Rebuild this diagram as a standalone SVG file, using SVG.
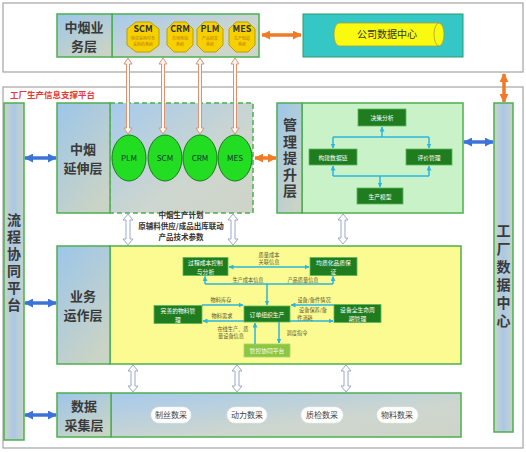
<svg xmlns="http://www.w3.org/2000/svg" width="526" height="452" viewBox="0 0 526 452">
<defs>
<linearGradient id="gLab" x1="0" y1="0" x2="0.6" y2="1"><stop offset="0" stop-color="#9cc6ea"/><stop offset="1" stop-color="#c9d3c6"/></linearGradient>
<linearGradient id="gBody" x1="0" y1="0" x2="1" y2="1"><stop offset="0" stop-color="#a6caec"/><stop offset="0.6" stop-color="#cdd6cf"/><stop offset="1" stop-color="#cfd4c8"/></linearGradient>
<linearGradient id="gSide" x1="0" y1="0" x2="1" y2="0"><stop offset="0" stop-color="#c8d4c8"/><stop offset="0.5" stop-color="#aac8e4"/><stop offset="1" stop-color="#c8d4c8"/></linearGradient>
<marker id="mc" viewBox="0 0 10 10" refX="9" refY="5" markerWidth="5" markerHeight="5" markerUnits="userSpaceOnUse" orient="auto-start-reverse"><path d="M0,0 L10,5 L0,10 Z" fill="#2bb6dc"/></marker>
<marker id="mb" viewBox="0 0 10 10" refX="9" refY="5" markerWidth="9" markerHeight="9" markerUnits="userSpaceOnUse" orient="auto-start-reverse"><path d="M0,0 L10,5 L0,10 Z" fill="#3b73d9"/></marker>
<marker id="mo" viewBox="0 0 10 10" refX="9" refY="5" markerWidth="9" markerHeight="9" markerUnits="userSpaceOnUse" orient="auto-start-reverse"><path d="M0,0 L10,5 L0,10 Z" fill="#f07a26"/></marker>
</defs>
<style>
text{font-family:"Noto Sans CJK SC","Liberation Sans",sans-serif}
.frame{fill:#fff;stroke:#a4a4a4;stroke-width:1.2}
.lab{fill:url(#gLab);stroke:#4caf50;stroke-width:1.5}
.big{font-size:13px;fill:#3a3a3a;text-anchor:middle;font-weight:bold}
.vt{font-size:14px;fill:#3a3a3a;font-weight:bold;writing-mode:vertical-rl;letter-spacing:3px}
.oct{fill:#f6d000;stroke:#b9a200;stroke-width:1}
.octT{font-size:9px;font-weight:bold;fill:#333;text-anchor:middle}
.octS{font-size:4px;fill:#c07a10;text-anchor:middle}
.cir{fill:#22dd22;stroke:#1b7a1b;stroke-width:1}
.cirT{font-size:8px;fill:#133;text-anchor:middle}
.dg{fill:#1f7d1f;stroke:#5cb85c;stroke-width:0.8}
.wt{font-size:5.8px;fill:#fff;text-anchor:middle}
.sm{font-size:5.2px;fill:#5a5a30;text-anchor:middle}
.cy{stroke:#2bb6dc;stroke-width:1.5;fill:none}
.blue{stroke:#3b73d9;stroke-width:3.5;fill:none}
.orange{stroke:#f07a26;stroke-width:3.5;fill:none}
.hb{fill:#fff;stroke:#9aa8cc;stroke-width:1}
.ho{fill:#fff7f0;stroke:#d99474;stroke-width:1}
.pill{fill:#fff;stroke:#e6ecef;stroke-width:0.5}
.pT{font-size:8px;fill:#444;text-anchor:middle}
</style>

<g id="top-frame"><rect class="frame" x="3" y="3" width="520" height="69"/></g>
<g id="platform-frame">
<rect class="frame" x="3" y="87" width="520" height="361"/>
<text x="10" y="98" font-size="8.5" fill="#e03a3a" font-weight="bold">工厂生产信息支撑平台</text>
</g>

<g id="zy-business">
<rect x="112" y="14" width="147" height="43" fill="url(#gBody)" stroke="#4caf50" stroke-width="1.5"/>
<rect class="lab" x="57" y="14" width="55" height="43"/>
<text class="big"><tspan x="84" y="32">中烟业</tspan><tspan x="84" y="51">务层</tspan></text>
</g>
<g id="sys-scm">
<path class="oct" d="M136,22 L150,22 L159,29 L159,45 L150,52 L136,52 L127,45 L127,29 Z"/>
<text class="octT" x="143" y="32">SCM</text>
<text class="octS"><tspan x="143" y="39.5">物资采购综合</tspan><tspan x="143" y="45.5">采购的系统</tspan></text>
</g>
<g id="sys-crm">
<path class="oct" d="M174,22 L186,22 L193,29 L193,45 L186,52 L174,52 L167,45 L167,29 Z"/>
<text class="octT" x="180" y="32">CRM</text>
<text class="octS"><tspan x="180" y="39.5">市场营销</tspan><tspan x="180" y="45.5">系统</tspan></text>
</g>
<g id="sys-plm">
<path class="oct" d="M204,22 L216,22 L223,29 L223,45 L216,52 L204,52 L197,45 L197,29 Z"/>
<text class="octT" x="210" y="32">PLM</text>
<text class="octS"><tspan x="210" y="39.5">产品研发</tspan><tspan x="210" y="45.5">系统</tspan></text>
</g>
<g id="sys-mes">
<path class="oct" d="M236,22 L248,22 L255,29 L255,45 L248,52 L236,52 L229,45 L229,29 Z"/>
<text class="octT" x="242" y="32">MES</text>
<text class="octS"><tspan x="242" y="39.5">生产制造</tspan><tspan x="242" y="45.5">系统</tspan></text>
</g>

<g id="company-dc">
<rect x="303" y="14" width="160" height="43" fill="#35c6c6" stroke="#2a9a6a" stroke-width="1"/>
<path d="M339,23 L439,23 A5,11.5 0 0 1 439,46 L339,46 A5,11.5 0 0 1 339,23 Z" fill="#fafa10" stroke="#a8a040" stroke-width="0.8"/>
<path d="M439,23 A5,11.5 0 0 0 439,46" fill="none" stroke="#a8a040" stroke-width="0.8"/>
<text x="387" y="38" font-size="10" fill="#333" text-anchor="middle">公司数据中心</text>
</g>

<g id="flow-platform">
<rect x="4" y="103" width="20" height="337" fill="url(#gSide)" stroke="#4caf50" stroke-width="1.5"/>
<text class="vt" x="14" y="213">流程协同平台</text>
</g>

<g id="factory-dc">
<rect x="494" y="103" width="19" height="329" fill="url(#gSide)" stroke="#4caf50" stroke-width="1.5"/>
<text class="vt" x="503.5" y="224" font-size="15" style="letter-spacing:4px">工厂数据中心</text>
</g>

<g id="zy-extension">
<rect x="110" y="103" width="143" height="110" fill="url(#gBody)" stroke="#4caf50" stroke-width="1.5" stroke-dasharray="5,3"/>
<rect class="lab" x="57" y="103" width="53" height="110"/>
<text class="big"><tspan x="83" y="154">中烟</tspan><tspan x="83" y="173">延伸层</tspan></text>
</g>
<g id="c-plm"><ellipse class="cir" cx="129" cy="158" rx="17" ry="23"/><text class="cirT" x="129" y="161">PLM</text></g>
<g id="c-scm"><ellipse class="cir" cx="165" cy="158" rx="17" ry="23"/><text class="cirT" x="165" y="161">SCM</text></g>
<g id="c-crm"><ellipse class="cir" cx="200" cy="158" rx="17" ry="23"/><text class="cirT" x="200" y="161">CRM</text></g>
<g id="c-mes"><ellipse class="cir" cx="235" cy="158" rx="17" ry="23"/><text class="cirT" x="235" y="161">MES</text></g>

<g id="mgmt">
<rect x="302" y="103" width="161" height="110" fill="#c9f2c9" stroke="#4caf50" stroke-width="1.5"/>
<rect class="lab" x="277" y="103" width="25" height="110"/>
<text class="vt" x="290" y="118" style="letter-spacing:2.5px">管理提升层</text>
</g>
<g id="m-decision"><rect class="dg" x="358" y="109" width="48" height="17"/><text class="wt" x="382" y="120" font-size="7">决策分析</text></g>
<g id="m-chain"><rect class="dg" x="309" y="149" width="48" height="16"/><text class="wt" x="333" y="160" font-size="7">构建数据链</text></g>
<g id="m-eval"><rect class="dg" x="406" y="149" width="46" height="16"/><text class="wt" x="429" y="160" font-size="7">评价管理</text></g>
<g id="m-model"><rect class="dg" x="357" y="188" width="46" height="16"/><text class="wt" x="380" y="199" font-size="7">生产模型</text></g>

<g id="biz">
<rect x="110" y="246" width="351" height="118" fill="#fbfb92" stroke="#4caf50" stroke-width="1.5"/>
<rect class="lab" x="57" y="246" width="53" height="118"/>
<text class="big"><tspan x="83" y="301">业务</tspan><tspan x="83" y="320">运作层</tspan></text>
</g>
<g id="b-cost"><rect class="dg" x="183" y="257.5" width="45" height="18"/><text class="wt"><tspan x="205.5" y="265">过程成本控制</tspan><tspan x="205.5" y="273.5">与分析</tspan></text></g>
<g id="b-quality"><rect class="dg" x="310" y="257.5" width="47" height="18"/><text class="wt"><tspan x="333.5" y="265">均质化品质保</tspan><tspan x="333.5" y="273.5">证</tspan></text></g>
<g id="b-order"><rect class="dg" x="244" y="306" width="46" height="16"/><text class="wt" x="267" y="316.5" font-size="7">订单组织生产</text></g>
<g id="b-material"><rect class="dg" x="154" y="305.5" width="48" height="18"/><text class="wt"><tspan x="178" y="313">完善的物料管</tspan><tspan x="178" y="321.5">理</tspan></text></g>
<g id="b-equip"><rect class="dg" x="334" y="304.5" width="47" height="18"/><text class="wt"><tspan x="357.5" y="312">设备全生命周</tspan><tspan x="357.5" y="320.5">期管理</tspan></text></g>
<g id="b-control"><rect x="244" y="344" width="46" height="13" fill="#8dc63f" stroke="#a8d870" stroke-width="0.8"/><text class="wt" x="267" y="353" font-size="7">管控协同平台</text></g>

<g id="acq">
<rect x="111" y="393" width="350" height="44" fill="url(#gBody)" stroke="#4caf50" stroke-width="1.5"/>
<rect class="lab" x="57" y="393" width="54" height="44"/>
<text class="big"><tspan x="84" y="411">数据</tspan><tspan x="84" y="430">采集层</tspan></text>
<rect class="pill" x="151" y="407" width="40" height="16" rx="8"/><text class="pT" x="171" y="418">制丝数采</text>
<rect class="pill" x="227" y="407" width="40" height="16" rx="8"/><text class="pT" x="247" y="418">动力数采</text>
<rect class="pill" x="301" y="407" width="42" height="16" rx="8"/><text class="pT" x="322" y="418">质检数采</text>
<rect class="pill" x="377" y="407" width="41" height="16" rx="8"/><text class="pT" x="397" y="418">物料数采</text>
</g>

<g id="connectors">
<line class="orange" x1="262" y1="35" x2="301" y2="35" marker-start="url(#mo)" marker-end="url(#mo)"/>
<line class="orange" x1="504" y1="74" x2="504" y2="102" marker-start="url(#mo)" marker-end="url(#mo)"/>
<line class="orange" x1="255" y1="158" x2="276" y2="158" marker-start="url(#mo)" marker-end="url(#mo)"/>
<line class="blue" x1="25" y1="158" x2="56" y2="158" marker-start="url(#mb)" marker-end="url(#mb)"/>
<line class="blue" x1="25" y1="303" x2="56" y2="303" marker-start="url(#mb)" marker-end="url(#mb)"/>
<line class="blue" x1="25" y1="415" x2="56" y2="415" marker-start="url(#mb)" marker-end="url(#mb)"/>
<line class="blue" x1="464" y1="142" x2="493" y2="142" marker-start="url(#mb)" marker-end="url(#mb)"/>
<path class="ho" d="M128,58 L132,64 L129.5,64 L129.5,128 L132,128 L128,134 L124,128 L126.5,128 L126.5,64 L124,64 Z"/>
<path class="ho" d="M163,58 L167,64 L164.5,64 L164.5,128 L167,128 L163,134 L159,128 L161.5,128 L161.5,64 L159,64 Z"/>
<path class="ho" d="M200,58 L204,64 L201.5,64 L201.5,128 L204,128 L200,134 L196,128 L198.5,128 L198.5,64 L196,64 Z"/>
<path class="ho" d="M235,58 L239,64 L236.5,64 L236.5,128 L239,128 L235,134 L231,128 L233.5,128 L233.5,64 L231,64 Z"/>
<path class="hb" d="M128,214 L133,220 L130,220 L130,239 L133,239 L128,245 L123,239 L126,239 L126,220 L123,220 Z"/>
<path class="hb" d="M233,214 L238,220 L235,220 L235,239 L238,239 L233,245 L228,239 L231,239 L231,220 L228,220 Z"/>
<path class="hb" d="M343,214 L348,220 L345,220 L345,238 L348,238 L343,244 L338,238 L341,238 L341,220 L338,220 Z"/>
<path class="hb" d="M133,365 L138,371 L135,371 L135,386 L138,386 L133,392 L128,386 L131,386 L131,371 L128,371 Z"/>
<path class="hb" d="M237,365 L242,371 L239,371 L239,386 L242,386 L237,392 L232,386 L235,386 L235,371 L232,371 Z"/>
<path class="hb" d="M346,365 L351,371 L348,371 L348,386 L351,386 L346,392 L341,386 L344,386 L344,371 L341,371 Z"/>
<text font-size="7.5" font-weight="bold" fill="#333" text-anchor="middle"><tspan x="181" y="218">中烟生产计划</tspan><tspan x="181" y="229">原辅料供应/成品出库联动</tspan><tspan x="181" y="240">产品技术参数</tspan></text>
<line class="cy" x1="333" y1="137" x2="429" y2="137"/>
<line class="cy" x1="382" y1="137" x2="382" y2="127" marker-end="url(#mc)"/>
<line class="cy" x1="333" y1="137" x2="333" y2="148" marker-end="url(#mc)"/>
<line class="cy" x1="429" y1="137" x2="429" y2="148" marker-end="url(#mc)"/>
<line class="cy" x1="333" y1="176" x2="429" y2="176"/>
<line class="cy" x1="333" y1="176" x2="333" y2="166" marker-end="url(#mc)"/>
<line class="cy" x1="429" y1="176" x2="429" y2="166" marker-end="url(#mc)"/>
<line class="cy" x1="380" y1="176" x2="380" y2="187" marker-end="url(#mc)"/>
<line class="cy" x1="229" y1="267" x2="309" y2="267" marker-start="url(#mc)" marker-end="url(#mc)"/>
<text class="sm"><tspan x="269" y="256.5">质量成本</tspan><tspan x="269" y="264.1">关联信息</tspan></text>
<line class="cy" x1="205" y1="284" x2="333" y2="284"/>
<line class="cy" x1="205" y1="284" x2="205" y2="276.5" marker-end="url(#mc)"/>
<line class="cy" x1="333" y1="284" x2="333" y2="276.5" marker-end="url(#mc)"/>
<text class="sm" x="248" y="282">生产成本信息</text>
<text class="sm" x="303" y="282">产品质量信息</text>
<line class="cy" x1="267" y1="284" x2="267" y2="305" marker-end="url(#mc)"/>
<line class="cy" x1="202" y1="305" x2="243" y2="305" marker-end="url(#mc)"/>
<text class="sm" x="221" y="302">物料库存</text>
<line class="cy" x1="244" y1="321" x2="203" y2="321" marker-end="url(#mc)"/>
<text class="sm" x="222" y="318">物料需求</text>
<line class="cy" x1="334" y1="305" x2="291" y2="305" marker-end="url(#mc)"/>
<text class="sm" x="314" y="302">设备/备件情况</text>
<line class="cy" x1="290" y1="321" x2="333" y2="321" marker-end="url(#mc)"/>
<text class="sm"><tspan x="313" y="312">设备保养/备</tspan><tspan x="305" y="319.6">件消耗</tspan></text>
<line class="cy" x1="255" y1="344" x2="255" y2="323" marker-end="url(#mc)"/>
<text class="sm"><tspan x="233" y="330.5">在线生产、质</tspan><tspan x="231" y="338.1">量设备信息</tspan></text>
<line class="cy" x1="279" y1="322" x2="279" y2="343" marker-end="url(#mc)"/>
<text class="sm" x="297" y="335">调度指令</text>
</g>
</svg>
